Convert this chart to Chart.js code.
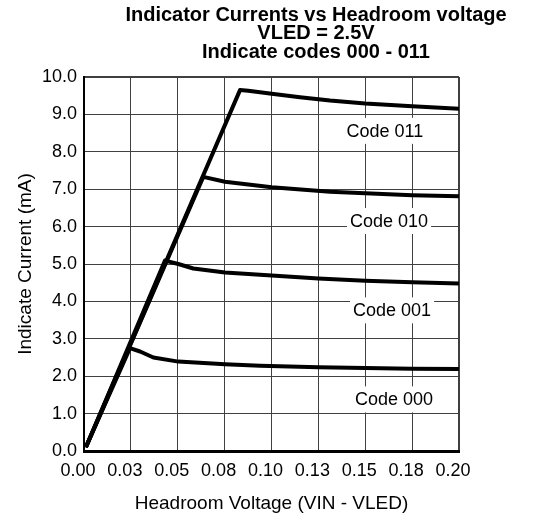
<!DOCTYPE html>
<html>
<head>
<meta charset="utf-8">
<script src="https://cdn.jsdelivr.net/npm/chart.js@4.4.1/dist/chart.umd.min.js"></script>
<style>
    html, body { margin: 0; padding: 0; background: #fff; }
    #wrap { width: 541px; height: 519px; position: relative; }
</style>
</head>
<body>
<div id="wrap"><canvas id="myChart"></canvas></div>
<script>
const titleLines = ['Indicator Currents vs Headroom voltage', 'VLED = 2.5V', 'Indicate codes 000 - 011'];
const xTickLabels = ['0.00', '0.03', '0.05', '0.08', '0.10', '0.13', '0.15', '0.18', '0.20'];
const yTickLabels = ['0.0', '1.0', '2.0', '3.0', '4.0', '5.0', '6.0', '7.0', '8.0', '9.0', '10.0'];

// headroom voltage (V) and current (mA) per code
const code000V = [0.001, 0.0245, 0.0299, 0.037, 0.0503, 0.0752, 0.0939, 0.125, 0.15, 0.175, 0.2];
const code000I = [0.1, 2.75, 2.66, 2.50, 2.39, 2.32, 2.28, 2.24, 2.22, 2.20, 2.19];
const code001V = [0.001, 0.0432, 0.0503, 0.0583, 0.0752, 0.0939, 0.125, 0.15, 0.175, 0.2];
const code001I = [0.1, 5.09, 5.0, 4.88, 4.77, 4.71, 4.61, 4.55, 4.51, 4.48];
const code010V = [0.001, 0.0636, 0.0752, 0.1001, 0.1312, 0.15, 0.175, 0.2];
const code010I = [0.1, 7.33, 7.20, 7.05, 6.93, 6.89, 6.84, 6.81];
const code011V = [0.001, 0.0832, 0.0876, 0.1001, 0.1152, 0.1312, 0.15, 0.175, 0.2];
const code011I = [0.1, 9.65, 9.63, 9.55, 9.46, 9.37, 9.29, 9.22, 9.15];

const codeNames = ['Code 000', 'Code 001', 'Code 010', 'Code 011'];
const labelV = [0.1653, 0.1643, 0.1627, 0.1605];
const labelI = [1.38, 3.76, 6.15, 8.56];

const fontFamily = '"Liberation Sans", Arial, Helvetica, sans-serif';
Chart.defaults.font.family = fontFamily;
Chart.defaults.color = '#000';

function toPoints(xs, ys) {
    return xs.map((v, i) => ({ x: v, y: ys[i] }));
}

function series(xs, ys) {
    return {
        data: toPoints(xs, ys),
        borderColor: '#000',
        borderWidth: 4,
        pointRadius: 0,
        tension: 0,
        borderJoinStyle: 'round',
        fill: false
    };
}

// white boxed curve labels, drawn under the curves but over the grid
const codeLabels = {
    id: 'codeLabels',
    beforeDatasetsDraw(chart) {
        const { ctx, scales: { x, y } } = chart;
        ctx.save();
        ctx.font = '18px ' + fontFamily;
        ctx.textAlign = 'center';
        ctx.textBaseline = 'middle';
        codeNames.forEach((name, i) => {
            const px = x.getPixelForValue(labelV[i]);
            const py = y.getPixelForValue(labelI[i]);
            const w = ctx.measureText(name).width + 6;
            ctx.fillStyle = '#fff';
            ctx.fillRect(px - w / 2, py - 13, w, 26);
            ctx.fillStyle = '#000';
            ctx.fillText(name, px, py + 1);
        });
        ctx.restore();
    }
};

// three line bold title, centred a bit right of the canvas middle
const chartTitle = {
    id: 'chartTitle',
    afterDraw(chart) {
        const ctx = chart.ctx;
        ctx.save();
        ctx.font = 'bold 20px ' + fontFamily;
        ctx.textAlign = 'center';
        ctx.textBaseline = 'alphabetic';
        ctx.fillStyle = '#000';
        const baselines = [21, 39, 57.5];
        titleLines.forEach((t, i) => ctx.fillText(t, 316, baselines[i]));
        ctx.restore();
    }
};

const ctx = document.getElementById('myChart').getContext('2d');
const myChart = new Chart(ctx, {
    type: 'line',
    data: {
        datasets: [
            series(code000V, code000I),
            series(code001V, code001I),
            series(code010V, code010I),
            series(code011V, code011I)
        ]
    },
    options: {
        responsive: true,
        maintainAspectRatio: false,
        animation: false,
        layout: { padding: { top: 77, right: 82, bottom: 0, left: 0 } },
        plugins: {
            legend: { display: false },
            title: { display: false },
            tooltip: { enabled: false }
        },
        scales: {
            x: {
                type: 'linear',
                min: 0,
                max: 0.2,
                ticks: {
                    stepSize: 0.025,
                    autoSkip: false,
                    maxRotation: 0,
                    labelOffset: -6,
                    padding: 9,
                    font: { size: 18 },
                    color: '#000',
                    callback: (v, i) => xTickLabels[i]
                },
                grid: {
                    color: '#404040',
                    lineWidth: c => (c.index === 8 ? 2 : 1),
                    drawTicks: false
                },
                border: { display: true, color: '#000', width: 3 },
                title: {
                    display: true,
                    text: 'Headroom Voltage (VIN - VLED)',
                    color: '#000',
                    font: { size: 19 },
                    padding: { top: 0, bottom: 4 }
                },
                afterFit: s => { s.height = 68; s.paddingLeft = 0; s.paddingRight = 0; }
            },
            y: {
                min: 0,
                max: 10,
                ticks: {
                    stepSize: 1,
                    padding: 7,
                    font: { size: 18 },
                    color: '#000',
                    callback: (v, i) => yTickLabels[i]
                },
                grid: {
                    color: '#404040',
                    lineWidth: c => (c.index === 10 ? 2 : 1),
                    drawTicks: false
                },
                border: { display: true, color: '#000', width: 2 },
                title: {
                    display: true,
                    text: 'Indicate Current (mA)',
                    color: '#000',
                    font: { size: 19 },
                    padding: { top: 14, bottom: 0 }
                },
                afterFit: s => { s.width = 84; s.paddingTop = 0; s.paddingBottom = 0; }
            }
        }
    },
    plugins: [codeLabels, chartTitle]
});
</script>
</body>
</html>
